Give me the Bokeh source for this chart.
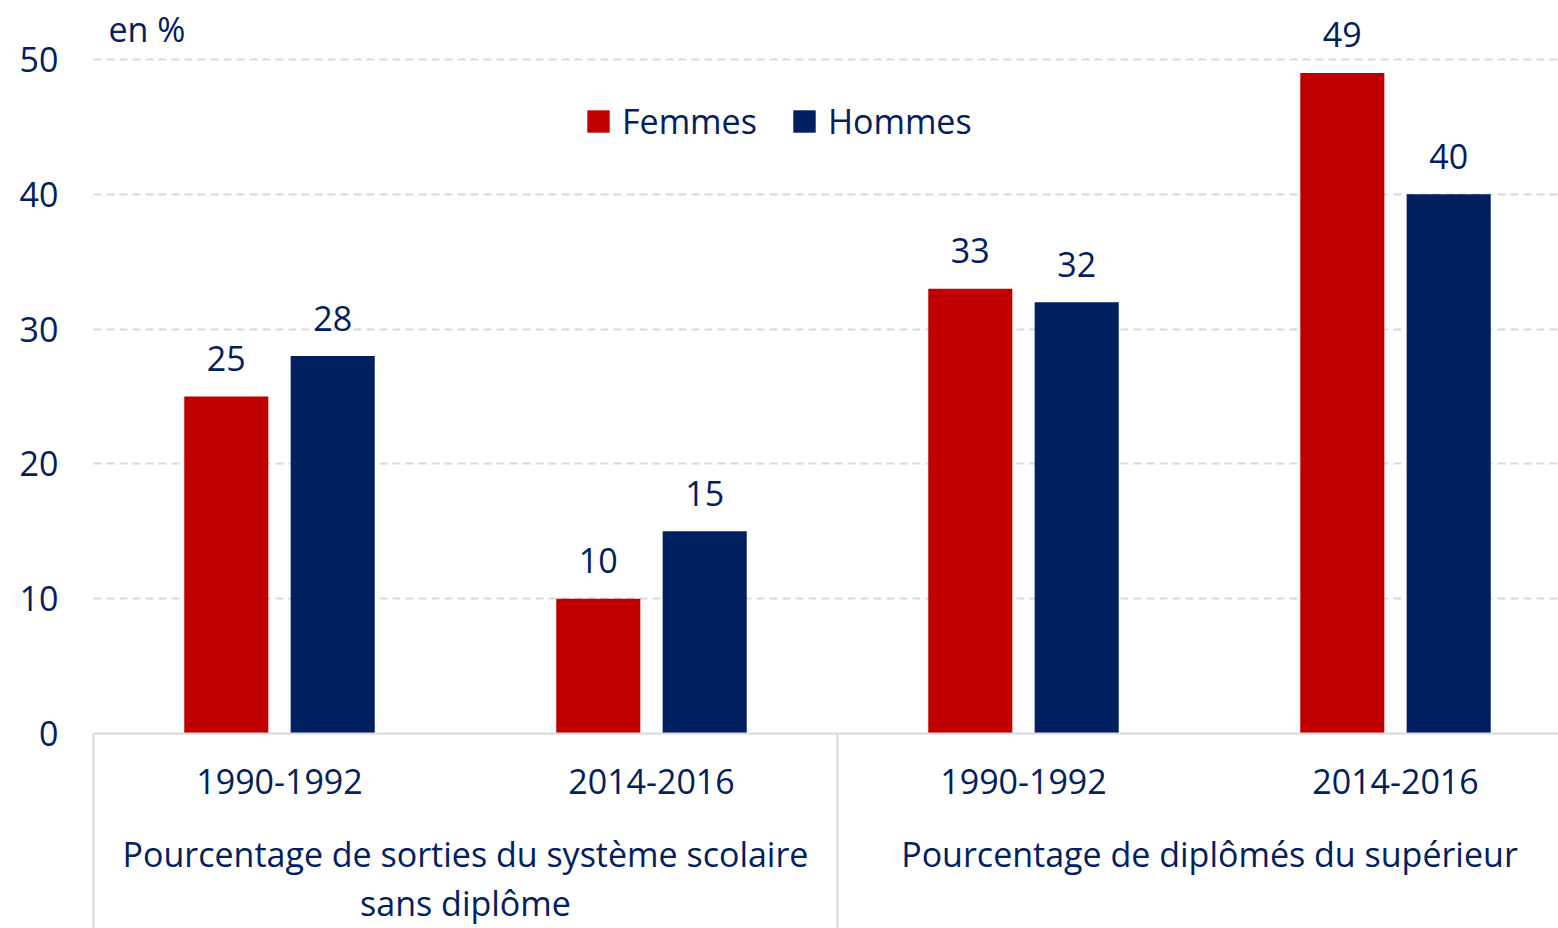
from bokeh.plotting import figure
from bokeh.models import (ColumnDataSource, Range1d, FixedTicker, LinearAxis, Label,
                          Legend, LegendItem)
from bokeh.core.properties import value
from bokeh.embed import file_html
from bokeh.resources import INLINE

# ---------------- data ----------------
groups = ["Pourcentage de sorties du système scolaire\nsans diplôme",
          "Pourcentage de diplômés du supérieur"]
group_centers = [0.5, 2.5]
periods = ["1990-1992", "2014-2016", "1990-1992", "2014-2016"]
femmes = [25, 10, 33, 49]
hommes = [28, 15, 32, 40]
series = ["Femmes", "Hommes"]
y_ticks = [0, 10, 20, 30, 40, 50]
unit_label = "en %"

# ---------------- style ----------------
FONT = "Open Sans"
FS = "34px"
TXT = "#002060"
RED = "#C00000"
NAVY = "#002060"
GRID = "#D9D9D9"
W, H = 1558, 928
LEFT = 93
ZERO_Y = 733
PX_PER_UNIT = 13.48
CAT_PX = 372.0
BAR_W = 0.226
OFF = 0.143

idx = list(range(len(periods)))
src_f = ColumnDataSource(dict(x=[i - OFF for i in idx], top=femmes,
                              lab=[str(v) for v in femmes]))
src_h = ColumnDataSource(dict(x=[i + OFF for i in idx], top=hommes,
                              lab=[str(v) for v in hommes]))

y_end = ZERO_Y / PX_PER_UNIT
p = figure(width=W, height=H, output_backend="svg", toolbar_location=None,
           x_range=Range1d(-0.5, -0.5 + (W - LEFT) / CAT_PX),
           y_range=Range1d(0, y_end),
           min_border_left=LEFT, min_border_right=0, min_border_top=0,
           min_border_bottom=H - ZERO_Y, x_axis_location=None)
p.outline_line_color = None
p.background_fill_color = "white"
p.border_fill_color = "white"

rf = p.vbar(x="x", top="top", width=BAR_W, source=src_f, fill_color=RED, line_color=None)
rh = p.vbar(x="x", top="top", width=BAR_W, source=src_h, fill_color=NAVY, line_color=None)

for src in (src_f, src_h):
    p.text(x="x", y="top", text="lab", source=src, text_align="center",
           text_baseline="middle", y_offset=-38, text_color=TXT,
           text_font=value(FONT), text_font_size=FS)

# y axis
p.yaxis.ticker = FixedTicker(ticks=y_ticks, minor_ticks=[])
p.yaxis.axis_line_color = None
p.yaxis.major_tick_line_color = None
p.yaxis.minor_tick_line_color = None
p.yaxis.major_tick_out = 0
p.yaxis.major_label_standoff = 35
p.yaxis.major_label_text_font = FONT
p.yaxis.major_label_text_font_size = FS
p.yaxis.major_label_text_color = TXT

p.ygrid.ticker = FixedTicker(ticks=y_ticks, minor_ticks=[])
p.ygrid.grid_line_color = GRID
p.ygrid.grid_line_width = 2
p.ygrid.grid_line_dash = "8 5"
p.xgrid.visible = False

# period axis (with long separator ticks drawn as minor ticks)
SEP = 200
ax1 = LinearAxis(ticker=FixedTicker(ticks=idx, minor_ticks=[-0.5, 1.5, 3.5]))
ax1.major_label_overrides = {i: periods[i] for i in idx}
ax1.axis_line_color = GRID
ax1.axis_line_width = 2
ax1.major_tick_line_color = None
ax1.major_tick_out = 0
ax1.major_tick_in = 0
ax1.minor_tick_in = 0
ax1.minor_tick_out = SEP
ax1.minor_tick_line_color = GRID
ax1.minor_tick_line_width = 2
ax1.major_label_standoff = 35 - SEP
ax1.major_label_text_font = FONT
ax1.major_label_text_font_size = FS
ax1.major_label_text_color = TXT
p.add_layout(ax1, "below")

# group axis
ax2 = LinearAxis(ticker=FixedTicker(ticks=group_centers, minor_ticks=[]))
ax2.major_label_overrides = dict(zip(group_centers, groups))
ax2.axis_line_color = None
ax2.major_tick_line_color = None
ax2.minor_tick_line_color = None
ax2.major_tick_out = 0
ax2.major_tick_in = 0
ax2.minor_tick_out = 0
ax2.minor_tick_in = 0
ax2.major_label_standoff = 34
ax2.major_label_text_font = FONT
ax2.major_label_text_font_size = FS
ax2.major_label_text_color = TXT
ax2.major_label_text_align = "center"
ax2.major_label_text_line_height = 1.067
p.add_layout(ax2, "below")

# unit label
p.add_layout(Label(x=-0.5, y=y_end, x_offset=15, y_offset=-28, text=unit_label,
                   text_baseline="middle", text_font=FONT, text_font_size=FS,
                   text_color=TXT))

legend = Legend(items=[LegendItem(label=series[0], renderers=[rf]),
                       LegendItem(label=series[1], renderers=[rh])],
                orientation="horizontal", location=(491, 589),
                glyph_width=28, glyph_height=28, label_standoff=10, spacing=33,
                padding=0, margin=0, border_line_color=None, background_fill_alpha=0,
                label_text_font=FONT, label_text_font_size=FS, label_text_color=TXT)
p.add_layout(legend, "center")

open("out.html", "w").write(file_html(p, INLINE))
